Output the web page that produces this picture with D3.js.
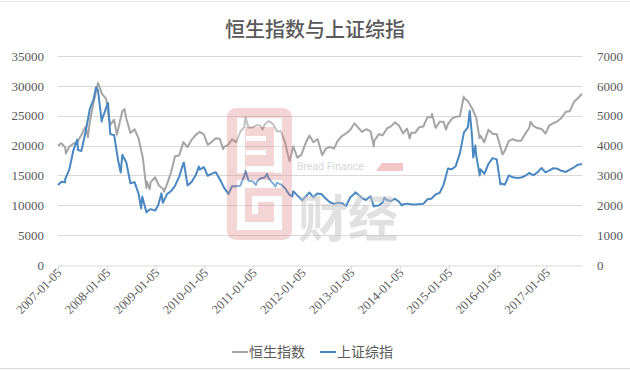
<!DOCTYPE html>
<html><head><meta charset="utf-8">
<script src="https://cdn.jsdelivr.net/npm/d3@7/dist/d3.min.js"></script>
<style>
html,body{margin:0;padding:0;background:#fff;}
svg{display:block;}
</style></head>
<body>
<svg id="chart" width="630" height="370"></svg>
<script>
const title = "恒生指数与上证综指";
const seriesNames = ["恒生指数", "上证综指"];
const leftTicks = [0,5000,10000,15000,20000,25000,30000,35000];
const rightTicks = [0,1000,2000,3000,4000,5000,6000,7000];
const xTickLabels = ["2007-01-05","2008-01-05","2009-01-05","2010-01-05","2011-01-05","2012-01-05","2013-01-05","2014-01-05","2015-01-05","2016-01-05","2017-01-05"];

const hsi = [
["2007-01-05",20000],["2007-01-31",20400],["2007-02-28",19652],["2007-03-05",18660],["2007-03-30",19801],
["2007-04-30",20319],["2007-05-31",20635],["2007-06-29",21773],["2007-07-31",23185],["2007-08-17",21400],
["2007-08-31",23984],["2007-09-28",27143],["2007-10-31",30500],["2007-11-30",28643],["2007-12-31",27813],
["2008-01-25",24000],["2008-01-31",23456],["2008-02-29",24332],["2008-03-20",21800],["2008-03-31",22849],
["2008-04-30",25755],["2008-05-16",26100],["2008-05-30",24533],["2008-06-30",22102],["2008-07-31",22731],
["2008-08-29",21262],["2008-09-30",18016],["2008-10-27",12900],["2008-10-31",13969],["2008-11-21",12700],
["2008-11-28",13888],["2008-12-31",14700],["2009-01-30",13278],["2009-02-27",12812],["2009-03-09",12300],
["2009-03-31",13576],["2009-04-30",15521],["2009-05-29",18171],["2009-06-30",18379],["2009-07-31",20573],
["2009-08-31",19724],["2009-09-30",20955],["2009-10-30",21753],["2009-11-30",22300],["2009-12-31",21873],
["2010-01-29",20122],["2010-02-26",20609],["2010-03-31",21239],["2010-04-30",21108],["2010-05-25",19400],
["2010-05-31",19765],["2010-06-30",20129],["2010-07-30",21030],["2010-08-31",20536],["2010-09-30",22358],
["2010-10-29",23096],["2010-11-08",24700],["2010-11-30",23008],["2010-12-31",23035],["2011-01-31",23447],
["2011-02-28",23338],["2011-03-16",22700],["2011-03-31",23528],["2011-04-29",24100],["2011-05-31",23684],
["2011-06-30",22398],["2011-07-29",22440],["2011-08-31",20535],["2011-09-30",17592],["2011-10-04",17400],
["2011-10-31",19864],["2011-11-30",17989],["2011-12-30",18434],["2012-01-31",20390],["2012-02-29",21680],
["2012-03-30",20556],["2012-04-30",21094],["2012-05-31",18630],["2012-06-04",18400],["2012-06-29",19441],
["2012-07-31",19796],["2012-08-31",19482],["2012-09-28",20840],["2012-10-31",21642],["2012-11-30",22030],
["2012-12-31",22657],["2013-01-31",23730],["2013-02-28",23020],["2013-03-28",22300],["2013-04-30",22737],
["2013-05-31",22392],["2013-06-25",19855],["2013-06-28",20803],["2013-07-31",21883],["2013-08-30",21731],
["2013-09-30",22860],["2013-10-31",23206],["2013-11-29",23882],["2013-12-31",23306],["2014-01-30",22035],
["2014-02-28",22837],["2014-03-20",21183],["2014-03-31",22151],["2014-04-30",22134],["2014-05-30",23082],
["2014-06-30",23191],["2014-07-31",24757],["2014-08-29",24742],["2014-09-03",25300],["2014-09-30",22933],
["2014-10-31",23998],["2014-11-28",23987],["2014-12-16",22670],["2014-12-31",23605],["2015-01-30",24507],
["2015-02-27",24823],["2015-03-31",24901],["2015-04-28",28200],["2015-04-30",28000],["2015-05-29",27424],
["2015-06-30",26250],["2015-07-31",24636],["2015-08-24",21251],["2015-08-31",21670],["2015-09-29",20556],
["2015-10-30",22640],["2015-11-30",21996],["2015-12-31",21914],["2016-01-29",19683],["2016-02-12",18500],
["2016-02-29",19112],["2016-03-31",20777],["2016-04-29",21067],["2016-05-31",20815],["2016-06-30",20794],
["2016-07-29",21891],["2016-08-31",22977],["2016-09-09",24000],["2016-09-30",23297],["2016-10-31",22935],
["2016-11-30",22790],["2016-12-30",22001],["2017-01-26",23361],["2017-02-28",23741],["2017-03-31",24112],
["2017-04-28",24615],["2017-05-31",25661],["2017-06-30",25765],["2017-07-31",27324],["2017-08-31",27970],
["2017-09-29",28700]
];

const sse = [
["2007-01-05",2680],["2007-01-31",2786],["2007-02-27",2771],["2007-02-28",2881],["2007-03-30",3183],
["2007-04-30",3841],["2007-05-29",4200],["2007-06-04",3850],["2007-06-29",3820],["2007-07-31",4471],
["2007-08-31",5218],["2007-09-28",5552],["2007-10-16",5950],["2007-10-31",5854],["2007-11-28",4803],
["2007-11-30",4871],["2007-12-31",5262],["2008-01-14",5430],["2008-01-31",4383],["2008-02-29",4348],
["2008-03-31",3473],["2008-04-18",3094],["2008-04-30",3693],["2008-05-30",3433],["2008-06-30",2736],
["2008-07-31",2776],["2008-08-29",2397],["2008-09-18",1895],["2008-09-26",2293],["2008-10-28",1760],
["2008-10-31",1800],["2008-11-28",1871],["2008-12-31",1821],["2009-01-23",1990],["2009-02-17",2400],
["2009-02-27",2082],["2009-03-31",2373],["2009-04-30",2477],["2009-05-27",2633],["2009-06-30",2959],
["2009-07-31",3412],["2009-08-04",3430],["2009-08-31",2667],["2009-09-30",2779],["2009-10-30",2996],
["2009-11-24",3300],["2009-11-30",3195],["2009-12-31",3277],["2010-01-29",2989],["2010-02-26",3051],
["2010-03-31",3110],["2010-04-30",2871],["2010-05-31",2592],["2010-06-30",2398],["2010-07-02",2373],
["2010-07-30",2638],["2010-08-31",2639],["2010-09-30",2656],["2010-10-29",2979],["2010-11-08",3159],
["2010-11-30",2820],["2010-12-31",2808],["2011-01-25",2677],["2011-01-31",2790],["2011-02-28",2905],
["2011-03-31",2928],["2011-04-18",3057],["2011-04-29",2911],["2011-05-31",2743],["2011-06-20",2621],
["2011-06-30",2762],["2011-07-29",2701],["2011-08-31",2568],["2011-09-30",2359],["2011-10-24",2300],
["2011-10-31",2468],["2011-11-30",2333],["2011-12-30",2199],["2012-01-06",2163],["2012-01-31",2292],
["2012-02-29",2428],["2012-03-30",2263],["2012-04-27",2397],["2012-05-31",2373],["2012-06-29",2225],
["2012-07-31",2103],["2012-08-31",2047],["2012-09-28",2086],["2012-10-31",2069],["2012-11-30",1980],
["2012-12-31",2269],["2013-01-31",2385],["2013-02-06",2434],["2013-02-28",2366],["2013-03-29",2237],
["2013-04-26",2178],["2013-05-31",2301],["2013-06-25",1959],["2013-06-28",1979],["2013-07-31",1994],
["2013-08-30",2098],["2013-09-12",2255],["2013-09-30",2175],["2013-10-31",2141],["2013-11-29",2220],
["2013-12-31",2116],["2014-01-20",1992],["2014-01-30",2033],["2014-02-28",2056],["2014-03-31",2033],
["2014-04-30",2026],["2014-05-30",2039],["2014-06-30",2048],["2014-07-31",2202],["2014-08-29",2217],
["2014-09-30",2364],["2014-10-31",2420],["2014-11-28",2683],["2014-12-31",3235],["2015-01-30",3210],
["2015-02-27",3310],["2015-03-31",3748],["2015-04-30",4442],["2015-05-29",4612],["2015-06-12",5166],
["2015-06-30",4277],["2015-07-08",3600],["2015-07-24",4000],["2015-07-31",3664],["2015-08-26",3000],
["2015-08-31",3206],["2015-09-30",3053],["2015-10-30",3383],["2015-11-30",3580],["2015-12-31",3539],
["2016-01-28",2700],["2016-01-29",2738],["2016-02-29",2688],["2016-03-31",3004],["2016-04-29",2938],
["2016-05-31",2917],["2016-06-30",2930],["2016-07-29",2979],["2016-08-31",3085],["2016-09-30",3005],
["2016-10-31",3100],["2016-11-30",3250],["2016-12-30",3104],["2017-01-26",3159],["2017-02-28",3242],
["2017-03-31",3223],["2017-04-28",3155],["2017-05-31",3117],["2017-06-30",3192],["2017-07-31",3273],
["2017-08-31",3361],["2017-09-29",3385]
];

const colors = ["#a5a5a5", "#4a88c2"];

const parse = d3.timeParse("%Y-%m-%d");
const svg = d3.select("#chart");
const W = 630, H = 370;
const m = {left: 58, right: 48, top: 56, bottom: 105};

const x = d3.scaleTime()
  .domain([parse("2007-01-05"), parse("2017-09-29")])
  .range([m.left, W - m.right]);
const yL = d3.scaleLinear().domain([0, 35000]).range([H - m.bottom, m.top]);
const yR = d3.scaleLinear().domain([0, 7000]).range([H - m.bottom, m.top]);

// frame lines
svg.append("line").attr("x1",0).attr("x2",W).attr("y1",1.5).attr("y2",1.5).attr("stroke","#e6e6e6");
svg.append("line").attr("x1",0).attr("x2",W).attr("y1",368.5).attr("y2",368.5).attr("stroke","#d9d9d9");

// title
svg.append("text").attr("x", 315).attr("y", 37).attr("text-anchor","middle")
  .attr("font-family","'Noto Sans CJK SC', sans-serif").attr("font-size", 20)
  .attr("font-weight", 500).attr("fill","#595959").text(title);

// gridlines
svg.append("g").selectAll("line").data(leftTicks.filter(d => d > 0)).join("line")
  .attr("x1", m.left).attr("x2", W - m.right)
  .attr("y1", d => Math.round(yL(d)) + 0.5).attr("y2", d => Math.round(yL(d)) + 0.5)
  .attr("stroke", "#d9d9d9").attr("stroke-width", 1);

const numFont = "'Liberation Serif', 'DejaVu Serif', serif";

// left axis
const axL = svg.append("g").attr("transform", `translate(${m.left - 11},0)`)
  .call(d3.axisLeft(yL).tickValues(leftTicks).tickSize(0).tickFormat(d3.format("d")));
axL.select(".domain").remove();
axL.selectAll("text").attr("font-family", numFont).attr("font-size", 13).attr("fill", "#595959");

// right axis
const axR = svg.append("g").attr("transform", `translate(${W - m.right + 12},0)`)
  .call(d3.axisRight(yR).tickValues(rightTicks).tickSize(0).tickFormat(d3.format("d")));
axR.select(".domain").remove();
axR.selectAll("text").attr("font-family", numFont).attr("font-size", 13).attr("fill", "#595959");

// x axis
const fmt = d3.timeFormat("%Y-%m-%d");
const axX = svg.append("g").attr("transform", `translate(0,${Math.round(H - m.bottom) + 0.5})`)
  .call(d3.axisBottom(x).tickValues(xTickLabels.map(parse)).tickSize(5).tickSizeOuter(0).tickFormat(fmt));
axX.select(".domain").attr("stroke", "#d9d9d9");
axX.selectAll(".tick line").attr("stroke", "#d9d9d9");
axX.selectAll("text").attr("font-family", numFont).attr("font-size", 12.5).attr("fill", "#595959")
  .attr("text-anchor", "end").attr("dy", null).attr("y", 0)
  .attr("transform", "translate(4,8) rotate(-45)");

// lines
const lineL = d3.line().x(d => x(parse(d[0]))).y(d => yL(d[1]));
const lineR = d3.line().x(d => x(parse(d[0]))).y(d => yR(d[1]));
svg.append("path").datum(hsi).attr("d", lineL).attr("fill","none")
  .attr("stroke", colors[0]).attr("stroke-width", 2).attr("stroke-linejoin","round");
svg.append("path").datum(sse).attr("d", lineR).attr("fill","none")
  .attr("stroke", colors[1]).attr("stroke-width", 2).attr("stroke-linejoin","round");

// watermark
const wm = svg.append("g").attr("opacity", 0.32);
wm.append("rect").attr("x", 227).attr("y", 108).attr("width", 65).attr("height", 132).attr("rx", 9)
  .attr("fill", "#dc8080");
[[237,118,45,9],[237,118,8,55],[274,118,8,55],[246,136,20,5],[246,150,20,5],[246,166,28,6],
 [237,180,45,8],[237,180,8,50],[237,222,45,8],[274,196,8,34],[252,196,22,6],[252,196,6,18]]
  .forEach(r => wm.append("rect").attr("x", r[0]).attr("y", r[1]).attr("width", r[2]).attr("height", r[3]).attr("fill", "#fff"));
svg.append("text").attr("x", 297).attr("y", 170).attr("font-family","Roboto, sans-serif")
  .attr("font-size", 10.5).attr("fill", "#d6d6d6").text("Bread Finance");
svg.append("path").attr("d", "M376,171 L382,163 L403,163 L403,171 Z").attr("fill", "#f2c6c6");
svg.append("text").attr("x", 298).attr("y", 237).attr("font-family","'Noto Sans CJK SC', sans-serif")
  .attr("font-size", 50).attr("font-weight", 700).attr("fill", "#c4c4c4").attr("opacity", 0.5).text("财经");

// legend
const leg = svg.append("g").attr("font-family","'Noto Sans CJK SC', sans-serif").attr("font-size", 14).attr("fill", "#595959");
const legItems = [{x: 232, c: colors[0], t: seriesNames[0]}, {x: 320, c: colors[1], t: seriesNames[1]}];
legItems.forEach(it => {
  leg.append("line").attr("x1", it.x).attr("x2", it.x + 16).attr("y1", 352).attr("y2", 352)
    .attr("stroke", it.c).attr("stroke-width", 2);
  leg.append("text").attr("x", it.x + 17).attr("y", 357).text(it.t);
});
</script>
</body></html>
